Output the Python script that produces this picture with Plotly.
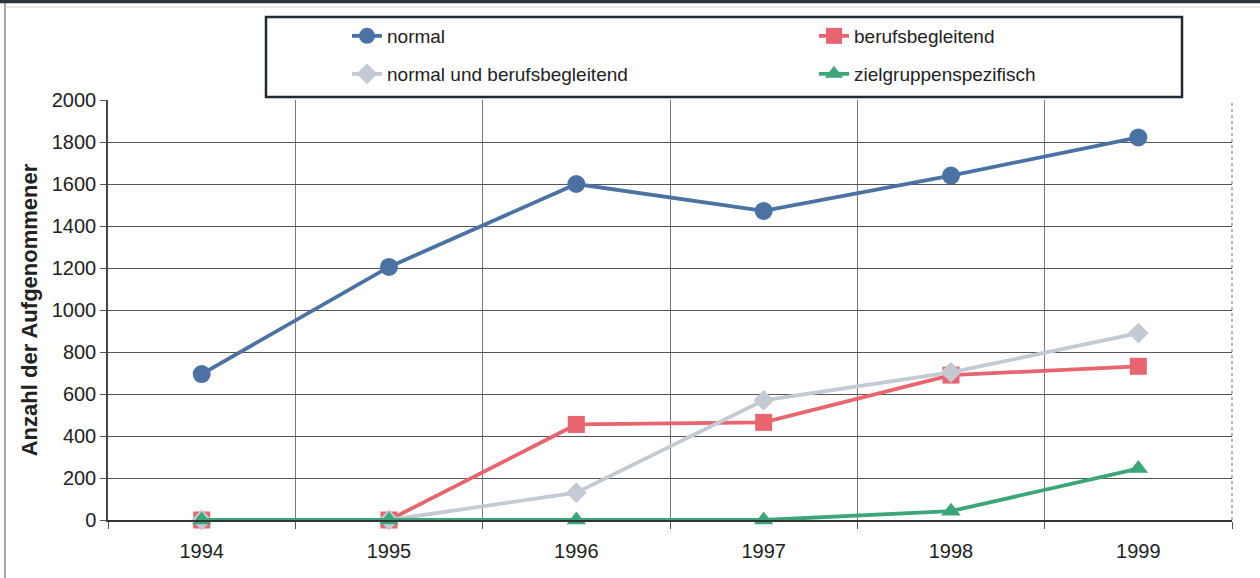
import plotly.graph_objects as go

# Jahrgänge und Anzahl der Aufgenommenen je Studienform
jahre = ["1994", "1995", "1996", "1997", "1998", "1999"]
normal = [695, 1205, 1600, 1472, 1640, 1822]
berufsbegleitend = [0, 0, 455, 465, 690, 732]
normal_und_berufsbegleitend = [0, 0, 130, 570, 703, 890]
zielgruppenspezifisch = [0, 0, 0, 0, 42, 245]

y_ticks = list(range(0, 2001, 200))

W, H = 1260, 578
ML, MR, MT, MB = 108, 28, 100, 58
PW, PH = W - ML - MR, H - MT - MB


def px_x(p):
    return (p - ML) / PW


def px_y(p):
    return (H - MB - p) / PH


FONT = "Liberation Sans, Arial, sans-serif"

series = [
    ("normal", normal, "#4a72a3", "circle", 18, "legend"),
    ("berufsbegleitend", berufsbegleitend, "#e8656f", "square", 17, "legend"),
    ("normal und berufsbegleitend", normal_und_berufsbegleitend, "#c3cad4", "diamond", 16, "legend2"),
    ("zielgruppenspezifisch", zielgruppenspezifisch, "#3ca67b", "triangle-up", 17, "legend2"),
]

fig = go.Figure()
for name, vals, color, sym, size, leg in series:
    fig.add_trace(go.Scatter(
        x=jahre, y=vals, name=name, mode="lines+markers",
        line=dict(color=color, width=3.8),
        marker=dict(symbol=sym, size=size, color=color),
        cliponaxis=False, legend=leg,
    ))

legend_common = dict(
    orientation="h", xanchor="left", yanchor="middle",
    bgcolor="rgba(0,0,0,0)", borderwidth=0,
    font=dict(family=FONT, size=19, color="#222222"),
    entrywidth=422, entrywidthmode="pixels", tracegroupgap=0,
)

fig.update_layout(
    width=W, height=H,
    margin=dict(l=ML, r=MR, t=MT, b=MB, autoexpand=False),
    paper_bgcolor="white", plot_bgcolor="white",
    font=dict(family=FONT, size=20, color="#222222"),
    showlegend=True,
    legend=dict(x=px_x(347), y=px_y(36), **legend_common),
    legend2=dict(x=px_x(347), y=px_y(74), **legend_common),
    xaxis=dict(
        type="category", tickson="boundaries", range=[-0.5, 5.5],
        showgrid=True, gridcolor="#777777", gridwidth=1,
        showline=True, linecolor="#333333", linewidth=2,
        ticks="outside", ticklen=7, tickcolor="#555555",
        ticklabelstandoff=12,
        tickfont=dict(family=FONT, size=20, color="#222222"),
    ),
    yaxis=dict(
        range=[0, 2000], tickvals=y_ticks,
        showgrid=True, gridcolor="#555555", gridwidth=1,
        zeroline=False,
        showline=True, linecolor="#444444", linewidth=1.5,
        ticks="outside", ticklen=6, tickcolor="#555555",
        tickfont=dict(family=FONT, size=20, color="#222222"),
        title=dict(text="<b>Anzahl der Aufgenommener</b>",
                   font=dict(family=FONT, size=22, color="#222222"),
                   standoff=8),
    ),
    shapes=[
        # rechter Rand der Zeichenfläche
        dict(type="line", xref="paper", yref="paper",
             x0=1, x1=1, y0=0, y1=1,
             line=dict(color="#9a9a9a", width=1.5, dash="dot")),
        # Legendenrahmen
        dict(type="rect", xref="paper", yref="paper",
             x0=px_x(266), x1=px_x(1182), y0=px_y(97), y1=px_y(17),
             line=dict(color="#1e2b35", width=2.5), fillcolor="rgba(0,0,0,0)", layer="above"),
        # äußerer Rahmen
        dict(type="line", xref="paper", yref="paper",
             x0=px_x(5), x1=px_x(5), y0=px_y(0), y1=px_y(578),
             line=dict(color="#8a8a8a", width=1.5)),
        dict(type="line", xref="paper", yref="paper",
             x0=px_x(0), x1=px_x(1260), y0=px_y(1.5), y1=px_y(1.5),
             line=dict(color="#2c3338", width=3.5)),
        dict(type="line", xref="paper", yref="paper",
             x0=px_x(5), x1=px_x(1260), y0=px_y(7), y1=px_y(7),
             line=dict(color="#cfcfcf", width=1)),
    ],
)

fig.write_html("out.html")
